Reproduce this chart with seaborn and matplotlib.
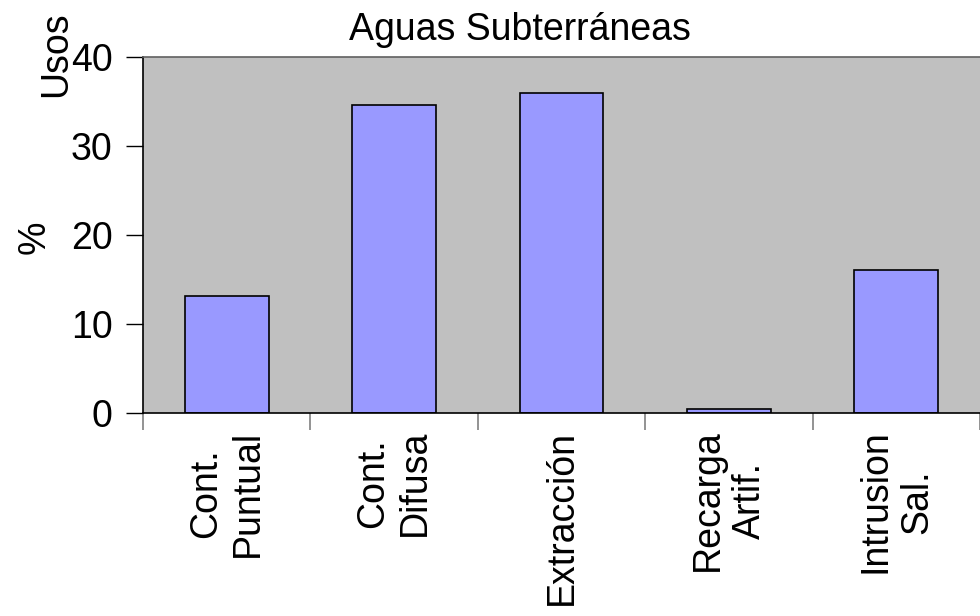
import matplotlib
matplotlib.use("Agg")
import matplotlib.pyplot as plt
import seaborn as sns
import pandas as pd
import numpy as np

categories = ["Cont.\nPuntual", "Cont.\nDifusa", "Extracción", "Recarga\nArtif.", "Intrusion\nSal."]
values = [13.1, 34.6, 35.95, 0.45, 16.07]
yticks = [0, 10, 20, 30, 40]

sns.set_theme(style="white")
plt.rcParams['font.family'] = ['Liberation Sans', 'DejaVu Sans']
plt.rcParams['text.color'] = 'black'
plt.rcParams['xtick.labelcolor'] = 'black'
plt.rcParams['ytick.labelcolor'] = 'black'

df = pd.DataFrame({"cat": categories, "val": values})

FS = 27
fig = plt.figure(figsize=(9.8, 6.16), dpi=100)
ax = fig.add_axes([143/980, 1-413/616, 1-143/980, (413-57)/616])
ax.set_facecolor("#C0C0C0")
sns.barplot(data=df, x="cat", y="val", color="#9999FF", width=0.5,
            edgecolor="black", linewidth=1.2, saturation=1, ax=ax)
ax.set_xlim(-0.5, len(categories)-0.5)
ax.set_ylim(0, 40)
ax.set_yticks(yticks)
ax.set_yticklabels([str(t) for t in yticks], fontsize=FS, color="black")
ax.tick_params(axis="y", direction="out", length=12, width=1, color="black", pad=10, left=True)

ax.set_xticks(np.arange(len(categories)+1)-0.5)
ax.set_xticklabels([])
ax.tick_params(axis="x", which="major", direction="out", length=12, width=1.2, color="#808080", bottom=True)
ax.set_xticks(np.arange(len(categories)), minor=True)
ax.set_xticklabels(categories, minor=True, rotation=90, fontsize=FS, multialignment="center",
                   va="top", ha="center", color="black")
ax.tick_params(axis="x", which="minor", length=0, pad=12)

for s in ["left", "bottom"]:
    ax.spines[s].set_color("black")
    ax.spines[s].set_linewidth(1.2)
ax.spines["top"].set_color("#606060")
ax.spines["top"].set_linewidth(1.2)
ax.spines["right"].set_visible(False)

ax.set_xlabel("")
ax.set_ylabel("")
fig.text(35/980, 1-237/616, "%", fontsize=FS, rotation=90, ha="center", va="center", color="black")
fig.text(56/980, 1-54/616, "Usos", fontsize=FS, rotation=90, ha="center", va="center", color="black")
fig.text(520/980, 1-30/616, "Aguas Subterráneas", fontsize=FS, ha="center", va="center", color="black")

fig.savefig("out.png", dpi=100)
